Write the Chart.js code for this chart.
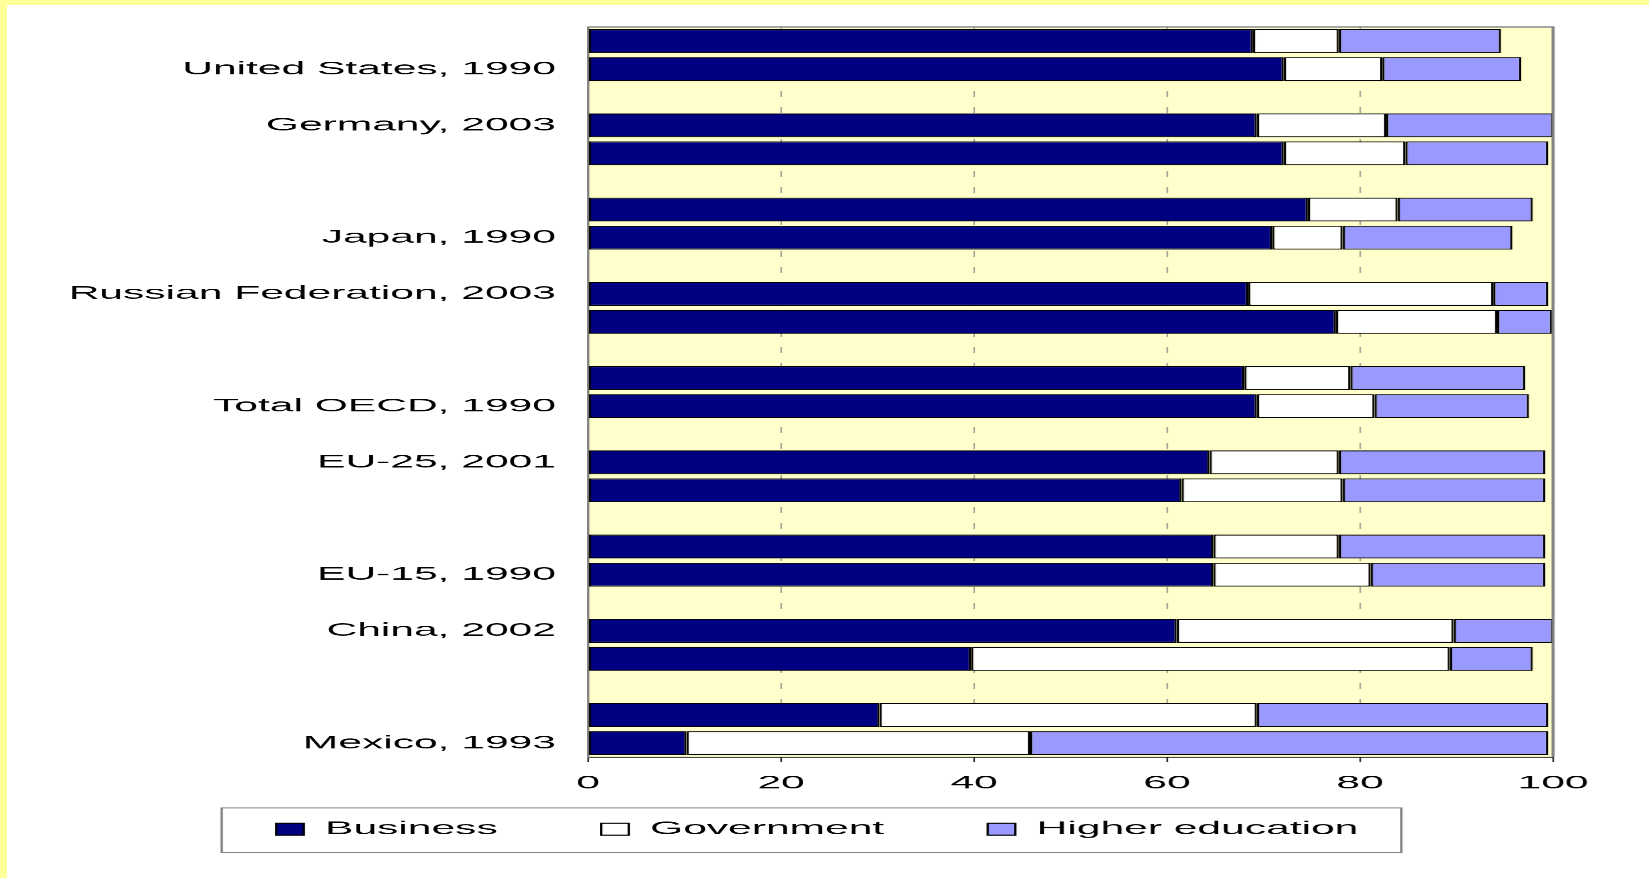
<!DOCTYPE html>
<html><head><meta charset="utf-8">
<script src="https://cdn.jsdelivr.net/npm/chart.js@4.4.1/dist/chart.umd.min.js"></script>
<style>
html,body{margin:0;padding:0;background:#fff;overflow:hidden;width:1649px;height:878px}
#page{position:absolute;left:0;top:0;width:1649px;height:878px;background:#fff}
#topband{position:absolute;left:0;top:0;width:1649px;height:5px;background:#FFFF99}
#leftband{position:absolute;left:0;top:0;width:7px;height:878px;background:#FFFF99}
#wrap{position:absolute;left:0;top:0;width:717px;height:878px;transform:scaleX(2.3);transform-origin:0 0}
</style></head><body>
<div id="page"><div id="topband"></div><div id="leftband"></div>
<div id="wrap"><canvas id="c"></canvas></div></div>
<script>
// Category rows (top to bottom); empty strings are unlabeled rows / spacer rows
const categories = [
  "", "United States, 1990", "",
  "Germany, 2003", "", "",
  "", "Japan, 1990", "",
  "Russian Federation, 2003", "", "",
  "", "Total OECD, 1990", "",
  "EU-25, 2001", "", "",
  "", "EU-15, 1990", "",
  "China, 2002", "", "",
  "", "Mexico, 1993"
];
const business   = [68.9, 72.1, null, 69.3, 72.1, null, 74.6, 70.9, null, 68.4, 77.5, null, 68.0, 69.3, null, 64.4, 61.5, null, 64.8, 64.8, null, 61.0, 39.7, null, 30.2, 10.2];
const government = [ 8.9, 10.2, null, 13.4, 12.6, null,  9.3,  7.3, null, 25.4, 16.7, null, 11.0, 12.2, null, 13.4, 16.7, null, 13.0, 16.3, null, 28.7, 49.6, null, 39.1, 35.6];
const higherEd   = [16.8, 14.4, null, 17.3, 14.8, null, 14.0, 17.6, null,  5.7,  5.7, null, 18.1, 16.0, null, 21.4, 21.0, null, 21.4, 18.1, null, 10.3,  8.6, null, 30.2, 53.7];
const seriesNames = ["Business", "Government", "Higher education"];
const xTickValues = [0, 20, 40, 60, 80, 100];

const FONT = {family: "'Liberation Sans', Arial, sans-serif", size: 18.5};

const noLabelClip = () => undefined;

const plotFrame = {
  id: 'plotFrame',
  beforeLayout(chart) {
    const lg = chart.legend;
    if (lg && !lg._fixedH) {
      const orig = lg.fit;
      lg.fit = function () { orig.call(this); this.height = 80; };
      lg._fixedH = true;
    }
  },
  beforeDraw(chart) {
    const {ctx, chartArea: a} = chart;
    ctx.save();
    ctx.fillStyle = '#FFFFCC';
    ctx.fillRect(a.left, a.top, a.right - a.left, a.bottom - a.top);
    ctx.restore();
  },
  afterDatasetsDraw(chart) {
    const {ctx, chartArea: a} = chart;
    ctx.save();
    ctx.strokeStyle = '#808080';
    ctx.lineWidth = 1.3;
    ctx.beginPath();
    ctx.moveTo(a.left, a.top);
    ctx.lineTo(a.right, a.top);
    ctx.lineTo(a.right, a.bottom);
    ctx.stroke();
    ctx.restore();
  },
  afterDraw(chart) {
    const lg = chart.legend;
    if (!lg || !lg.legendHitBoxes || !lg.legendHitBoxes.length) return;
    const hb = lg.legendHitBoxes;
    const l = Math.min(...hb.map(b => b.left));
    const r = Math.max(...hb.map(b => b.left + b.width));
    const t = Math.min(...hb.map(b => b.top));
    const btm = Math.max(...hb.map(b => b.top + b.height));
    const ctx = chart.ctx;
    ctx.save();
    ctx.strokeStyle = '#808080';
    ctx.lineWidth = 1;
    ctx.strokeRect(l - 23.7, t - 12, (r - l) + 23.7 + 18.7, (btm - t) + 12 + 14);
    ctx.restore();
  }
};

new Chart(document.getElementById('c'), {
  type: 'bar',
  data: {
    labels: categories,
    datasets: [
      {label: seriesNames[0], data: business, backgroundColor: '#000080', borderColor: '#000000', borderWidth: 1, borderSkipped: false},
      {label: seriesNames[1], data: government, backgroundColor: '#FFFFFF', borderColor: '#000000', borderWidth: 1, borderSkipped: false},
      {label: seriesNames[2], data: higherEd, backgroundColor: '#9999FF', borderColor: '#000000', borderWidth: 1, borderSkipped: false}
    ]
  },
  options: {
    indexAxis: 'y',
    responsive: true,
    maintainAspectRatio: false,
    devicePixelRatio: 2.3,
    animation: false,
    datasets: {bar: {categoryPercentage: 1.0, barPercentage: 0.85}},
    layout: {padding: {top: 27, left: 35.4, right: 41.8, bottom: 23.25}},
    scales: {
      x: {
        type: 'linear',
        stacked: true,
        position: 'bottom',
        min: 0, max: 100,
        afterBuildTicks(scale) { scale.ticks = xTickValues.map(v => ({value: v})); },
        afterFit(scale) { scale.height = 17.75; scale._computeLabelArea = noLabelClip; },
        grid: {
          color: (c) => (c.tick && (c.tick.value === 0 || c.tick.value === 100)) ? 'rgba(0,0,0,0)' : '#808080',
          lineWidth: 0.5,
          drawTicks: true,
          tickLength: 5,
          tickColor: '#000000',
          tickWidth: 0.6
        },
        border: {display: true, color: '#000000', width: 1, dash: [6, 10]},
        ticks: {color: '#000000', font: FONT, padding: 10, maxRotation: 0}
      },
      y: {
        type: 'category',
        stacked: true,
        afterFit(scale) { scale.width = 220.3; scale._computeLabelArea = noLabelClip; },
        grid: {display: false, drawTicks: false},
        border: {display: true, color: '#808080', width: 1},
        ticks: {color: '#000000', font: FONT, padding: 14, autoSkip: false}
      }
    },
    plugins: {
      legend: {
        position: 'bottom',
        align: 'center',
        labels: {boxWidth: 12, boxHeight: 12, padding: 45, color: '#000000', font: FONT}
      },
      tooltip: {enabled: false}
    }
  },
  plugins: [plotFrame]
});
</script>
</body></html>
